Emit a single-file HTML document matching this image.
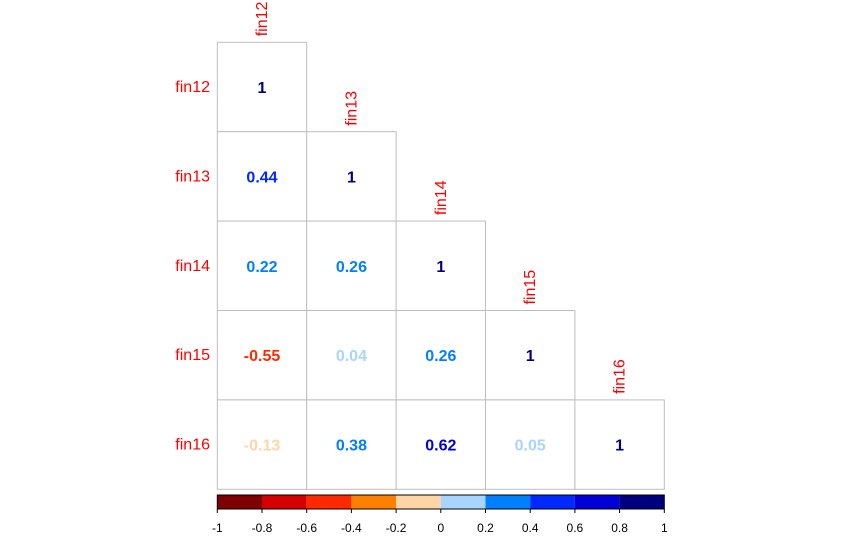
<!DOCTYPE html>
<html><head><meta charset="utf-8"><style>
body{margin:0;background:#fff;width:858px;height:542px;overflow:hidden}
svg{display:block;font-family:"Liberation Sans",Arial,sans-serif}
</style></head><body>
<svg id="chart" width="858" height="542"></svg>
<script>
const vars=["fin12","fin13","fin14","fin15","fin16"];
const corr=[[1],[0.44,1],[0.22,0.26,1],[-0.55,0.04,0.26,1],[-0.13,0.38,0.62,0.05,1]];
const ticks=[-1,-0.8,-0.6,-0.4,-0.2,0,0.2,0.4,0.6,0.8,1];
const palette=["#7F0000","#D60000","#FF2900","#FF8000","#FFD5A8","#A8D5FF","#0080FF","#0029FF","#0000D6","#00007F"];
const ns="http://www.w3.org/2000/svg";
const svg=document.getElementById("chart");
const L=217.3,T=42.3,C=89.4,N=vars.length;
function mk(t,a,p){const e=document.createElementNS(ns,t);for(const k in a)e.setAttribute(k,a[k]);(p||svg).appendChild(e);return e;}
function col(v){let i=Math.floor((v+1)/0.2);if(i>9)i=9;if(i<0)i=0;return palette[i];}
const bx=v=>L+(v+1)/2*(C*N);
for(let i=0;i<N;i++){
  const rl=mk("text",{x:210,y:T+C*i+C/2+5,"text-anchor":"end","font-size":16,fill:"#FF0000"});
  rl.textContent=vars[i];
  
  
  const cx=L+C*i+C/2,cy=T+C*i-6;
  const cl=mk("text",{x:cx+5,y:cy,transform:`rotate(-90 ${cx+5} ${cy})`,"font-size":16,fill:"#FF0000"});
  cl.textContent=vars[i];
  
  
  for(let j=0;j<=i;j++){
    const v=corr[i][j];
    const r=mk("rect",{x:L+C*j,y:T+C*i,width:C,height:C,fill:"#fff",stroke:"#BEBEBE","stroke-width":1});
    
    
    const t=mk("text",{x:L+C*j+C/2,y:T+C*i+C/2+6,"text-anchor":"middle","font-size":16,"font-weight":"bold",fill:col(v)});
    t.textContent=String(v);
    
    
  }
}
for(let k=0;k<palette.length;k++){
  const r=mk("rect",{x:bx(ticks[k]),y:495,width:bx(ticks[k+1])-bx(ticks[k]),height:14,fill:palette[k]});
  
  
}
const fr=mk("rect",{x:L,y:495,width:C*N,height:14,fill:"none",stroke:"#000","stroke-width":1});


ticks.forEach(v=>{
  const x=bx(v);
  const l=mk("line",{x1:x,x2:x,y1:509,y2:513,stroke:"#000","stroke-width":1});
  
  
  const t=mk("text",{x:x,y:532,"text-anchor":"middle","font-size":12,fill:"#000"});
  t.textContent=String(v);
  
  
});
</script>
</body></html>
